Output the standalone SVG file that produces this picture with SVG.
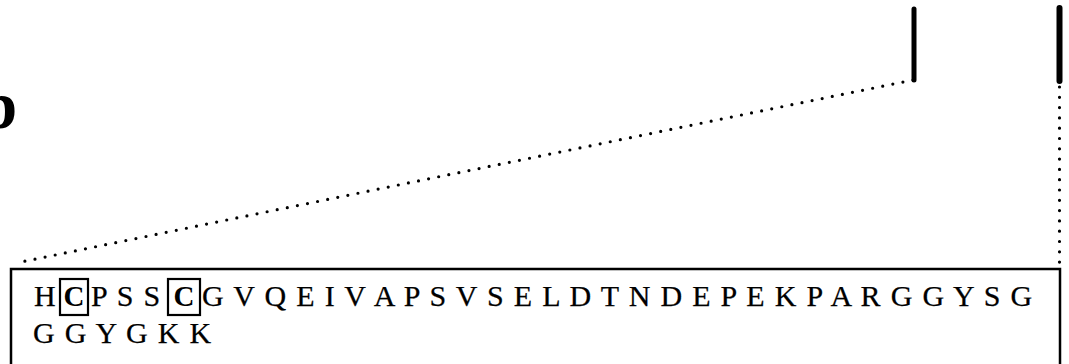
<svg xmlns="http://www.w3.org/2000/svg" width="1069" height="364" viewBox="0 0 1069 364">
<style>
.seq{font-family:"Liberation Serif","Times New Roman",serif;font-size:30px;letter-spacing:1.3px;fill:#000;stroke:#000;stroke-width:0.25}
.cys{font-family:"Liberation Serif","Times New Roman",serif;font-size:29px;font-weight:bold;fill:#000}
.box{fill:none;stroke:#000;stroke-width:2.2}
.dots{fill:none;stroke:#000;stroke-width:3.2;stroke-linecap:round;stroke-dasharray:0 10.3}
.bar{stroke:#000;stroke-linecap:round}
.label{font-family:"Liberation Serif","Times New Roman",serif;font-size:67px;font-weight:bold;fill:#000}
</style>
<rect width="1069" height="364" fill="#fff"/>
<g id="panel-label"><text class="label" x="-20" y="128">b</text></g>
<g id="markers">
<line class="bar" x1="914" y1="9" x2="914" y2="80" stroke-width="5"/>
<line class="bar" x1="1059.5" y1="8" x2="1059.5" y2="81" stroke-width="6" stroke-linecap="butt"/>
</g>
<g id="connectors">
<line class="dots" x1="913" y1="80" x2="16" y2="263"/>
<line class="dots" x1="1059.5" y1="87" x2="1059.5" y2="263"/>
</g>
<g id="sequence-box">
<rect x="11" y="269" width="1049" height="110" fill="none" stroke="#000" stroke-width="2.5"/>
<text class="seq" x="34" y="306">H</text>
<rect class="box" x="60" y="279" width="28" height="36"/>
<text class="cys" x="74" y="306" text-anchor="middle">C</text>
<text class="seq" x="91" y="306">P S S</text>
<rect class="box" x="168" y="279" width="32" height="36"/>
<text class="cys" x="184" y="306" text-anchor="middle">C</text>
<text class="seq" x="202" y="306">G V Q E I V A P S V S E L D T N D E P E K P A R G G Y S G</text>
<text class="seq" x="33" y="343">G G Y G K K</text>
</g>
</svg>
